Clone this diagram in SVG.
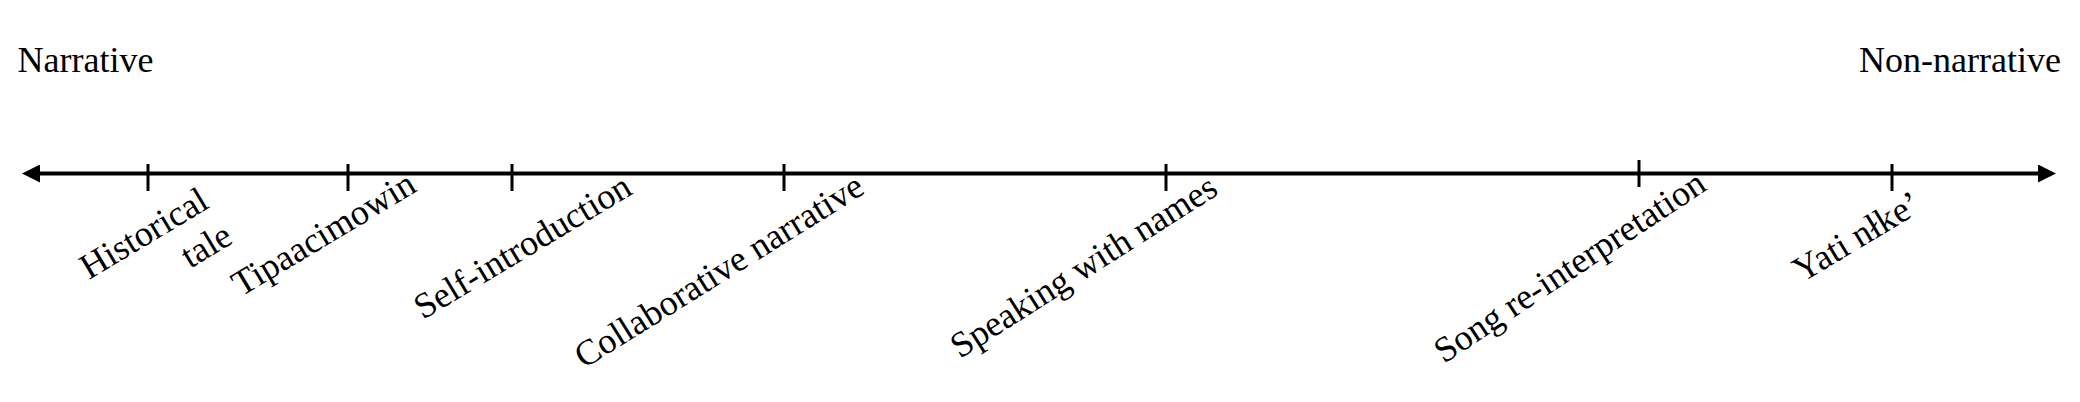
<svg xmlns="http://www.w3.org/2000/svg" width="2080" height="402" viewBox="0 0 2080 402">
<style>
text{font-family:"Liberation Serif","Times New Roman",serif;font-size:36px;fill:#000}
.axis{stroke:#000;stroke-width:4;fill:none}
.tick{stroke:#000;stroke-width:3;fill:none}
</style>
<defs>
<marker id="ah" markerUnits="userSpaceOnUse" markerWidth="18" markerHeight="18" refX="2" refY="9" orient="auto-start-reverse" viewBox="0 0 18 18">
<path d="M0,0 L18,9 L0,18 z" fill="#000"/>
</marker>
</defs>
<rect width="2080" height="402" fill="#fff"/>
<g id="connectors">
<line class="axis" x1="38" y1="173.5" x2="2040" y2="173.5" marker-start="url(#ah)" marker-end="url(#ah)"/>
</g>
<g id="end-labels">
<text id="narrative" x="17.5" y="72">Narrative</text>
<text id="non-narrative" x="2061" y="72" text-anchor="end">Non-narrative</text>
</g>
<g id="historical-tale">
<line class="tick" x1="148" y1="164" x2="148" y2="191"/>
<text transform="rotate(-31 89 280)" x="89" y="280">Historical</text>
<text transform="rotate(-31 190 269)" x="190" y="269">tale</text>
</g>
<g id="tipaacimowin">
<line class="tick" x1="348" y1="164" x2="348" y2="191"/>
<text transform="rotate(-31 241 297)" x="241" y="297">Tipaacimowin</text>
</g>
<g id="self-introduction">
<line class="tick" x1="512" y1="164" x2="512" y2="191"/>
<text transform="rotate(-31 423 320)" x="423" y="320">Self-introduction</text>
</g>
<g id="collaborative-narrative">
<line class="tick" x1="784" y1="164" x2="784" y2="191"/>
<text transform="rotate(-32 584 369)" x="584" y="369">Collaborative narrative</text>
</g>
<g id="speaking-with-names">
<line class="tick" x1="1166" y1="164" x2="1166" y2="191"/>
<text transform="rotate(-32.5 960 359)" x="960" y="359">Speaking with names</text>
</g>
<g id="song-re-interpretation">
<line class="tick" x1="1639" y1="160" x2="1639" y2="187"/>
<text transform="rotate(-33.5 1444 364)" x="1444" y="364">Song re-interpretation</text>
</g>
<g id="yati-nlke">
<line class="tick" x1="1892" y1="164" x2="1892" y2="191"/>
<text transform="rotate(-31 1802 283)" x="1802" y="283">Yati nłke’</text>
</g>
</svg>
